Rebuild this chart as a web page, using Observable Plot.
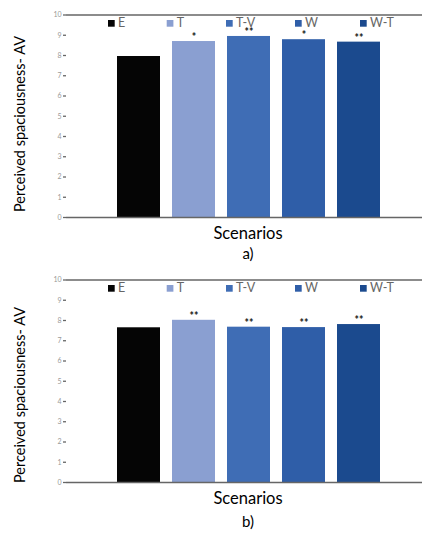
<!DOCTYPE html>
<html>
<head>
<meta charset="utf-8">
<script src="https://cdn.jsdelivr.net/npm/d3@7"></script>
<script src="https://cdn.jsdelivr.net/npm/@observablehq/plot@0.6"></script>
<style>
  html, body { margin: 0; padding: 0; background: #fff; }
  #root { width: 422px; }
  svg { display: block; }
</style>
</head>
<body>
<div id="root"></div>
<script>
// ---- data ----
const scenarios = ["E", "T", "T-V", "W", "W-T"];
const valuesA = [7.95, 8.69, 8.94, 8.78, 8.66];
const starsA = ["", "*", "**", "*", "**"];
const valuesB = [7.64, 8.01, 7.67, 7.65, 7.80];
const starsB = ["", "**", "**", "**", "**"];
const yTicks = [0, 1, 2, 3, 4, 5, 6, 7, 8, 9, 10];
const colors = ["#050505", "#8A9FD1", "#3F6DB5", "#2F5EA8", "#1B4A8E"];
const yLabel = "Perceived spaciousness- AV";
const xLabel = "Scenarios";

// ---- layout ----
const FONT = "Lato, 'Open Sans', sans-serif";
const legendX = [108, 166.7, 226, 295, 360];

function makeChart(values, stars, caption, height, ylabelY) {
  const data = scenarios.map((s, i) => ({scenario: s, value: values[i], star: stars[i]}));
  const legend = (index, scales, vals, dims) => {
    const g = d3.create("svg:g").attr("text-anchor", "start");
    scenarios.forEach((s, i) => {
      g.append("rect").attr("x", legendX[i]).attr("y", 20).attr("width", 6.7).attr("height", 6.7)
        .attr("fill", scales.color(s));
      g.append("text").attr("x", legendX[i] + 10).attr("y", 26.9)
        .attr("text-anchor", "start")
        .attr("font-size", 12.5).attr("fill", "#666").attr("font-family", FONT).text(s);
    });
    return g.node();
  };
  const labels = (index, scales, vals, dims) => {
    const g = d3.create("svg:g").attr("font-family", FONT).attr("fill", "#000");
    g.append("text").attr("x", 248).attr("y", 233).attr("dy", "0.35em").attr("text-anchor", "middle")
      .attr("font-size", 16.5).text(xLabel);
    g.append("text").attr("x", 248).attr("y", height - 11).attr("dy", "0.35em").attr("text-anchor", "middle")
      .attr("font-size", 15).text(caption);
    g.append("text").attr("transform", `translate(20,${ylabelY}) rotate(-90)`).attr("dy", "0.35em")
      .attr("text-anchor", "middle").attr("font-size", 14.5).text(yLabel);
    return g.node();
  };
  return Plot.plot({
    width: 422,
    height: height,
    marginLeft: 66,
    marginRight: 0,
    marginTop: 14.5,
    marginBottom: height - 217,
    style: {fontFamily: FONT, background: "#fff"},
    x: {domain: scenarios, range: [66, 431], paddingInner: 0.21, paddingOuter: 0.867, axis: null},
    y: {domain: [0, 10], axis: null},
    color: {domain: scenarios, range: colors},
    marks: [
      Plot.barY(data, {x: "scenario", y: "value", fill: "scenario"}),
      Plot.text(data, {x: "scenario", y: "value", text: "star", lineAnchor: "bottom", dy: -0.5, fontSize: 10.5, fill: "#111", fontWeight: "bold"}),
      Plot.ruleY([0, 10], {stroke: "#666", strokeWidth: 1.3}),
      Plot.axisY({ticks: yTicks, label: null, tickSize: 3, tickPadding: 2, fontSize: 7, color: "#999", line: true, stroke: "#666", strokeWidth: 1.3}),
      legend,
      labels
    ]
  });
}

const root = document.getElementById("root");
root.appendChild(makeChart(valuesA, starsA, "a)", 265, 124));
root.appendChild(makeChart(valuesB, starsB, "b)", 268, 130));
</script>
</body>
</html>
